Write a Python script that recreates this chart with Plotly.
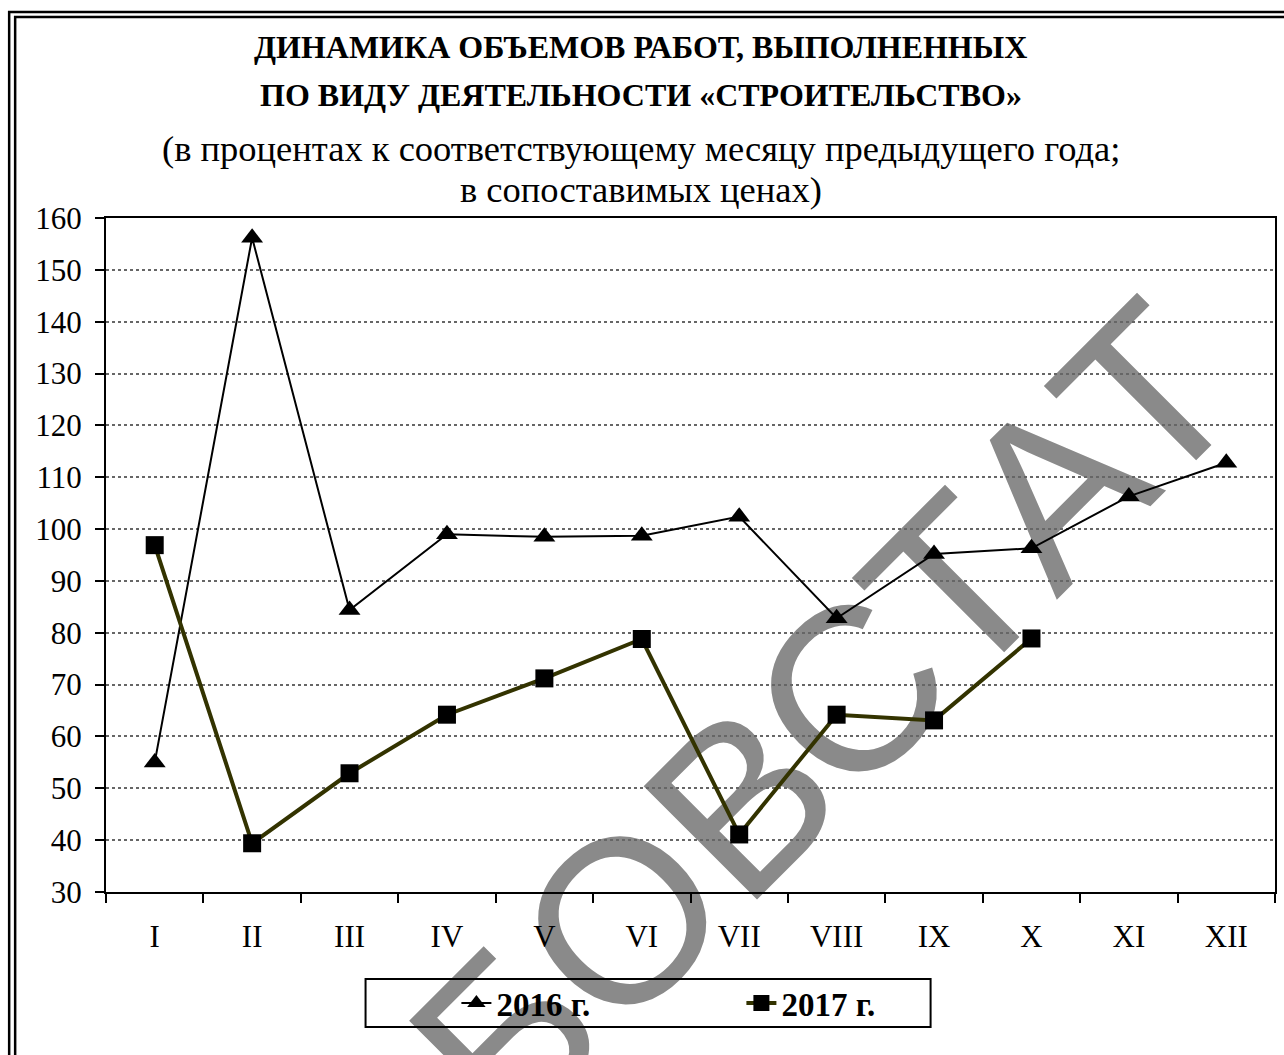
import plotly.graph_objects as go

months = ["I", "II", "III", "IV", "V", "VI", "VII", "VIII", "IX", "X", "XI", "XII"]
values_2016 = [55.0, 156.2, 84.4, 99.0, 98.5, 98.7, 102.4, 82.8, 95.2, 96.3, 106.3, 112.8]
values_2017 = [96.9, 39.4, 52.9, 64.2, 71.2, 78.8, 41.1, 64.2, 63.1, 78.9]
names = ["2016 г.", "2017 г."]

title_lines = [
    "ДИНАМИКА ОБЪЕМОВ РАБОТ, ВЫПОЛНЕННЫХ",
    "ПО ВИДУ ДЕЯТЕЛЬНОСТИ «СТРОИТЕЛЬСТВО»",
    "(в процентах к соответствующему месяцу предыдущего года;",
    "в сопоставимых ценах)",
]
watermark = "БОВСТАТ"

W, H = 1284, 1055
L, R, T, B = 106, 1277, 218, 892


def px(xp):
    return (xp - L) / (R - L)


def py(yp):
    return (B - yp) / (B - T)


SERIF = "Liberation Serif, Times New Roman, serif"

fig = go.Figure()
fig.add_trace(go.Scatter(
    x=months, y=values_2016, name=names[0], mode="lines+markers",
    line=dict(color="black", width=2),
    marker=dict(symbol="triangle-up", size=19, color="black"),
))
fig.add_trace(go.Scatter(
    x=months[:len(values_2017)], y=values_2017, name=names[1], mode="lines+markers",
    line=dict(color="#333300", width=4),
    marker=dict(symbol="square", size=18, color="black"),
))

annotations = []
ys = [47, 95, 148, 190]
for i, (txt, yp) in enumerate(zip(title_lines, ys)):
    bold = i < 2
    annotations.append(dict(
        text=f"<b>{txt}</b>" if bold else txt,
        x=px(641.5), y=py(yp), xref="paper", yref="paper",
        xanchor="center", yanchor="middle", showarrow=False,
        font=dict(family=SERIF, size=32 if bold else 36.5, color="black"),
    ))

shapes = [
    # watermark (below everything)
    dict(type="line", xref="paper", yref="paper",
         x0=px(805), y0=py(707), x1=px(815), y1=py(697),
         line=dict(width=0, color="rgba(0,0,0,0)"), layer="below",
         label=dict(text=watermark, textangle=-45, textposition="middle",
                    xanchor="center", yanchor="middle",
                    font=dict(family="Liberation Sans, Arial, sans-serif", size=233, color="#8a8a8a"))),
    # outer double frame
    dict(type="rect", xref="paper", yref="paper",
         x0=px(9), x1=px(1300), y0=py(1100), y1=py(12),
         line=dict(color="black", width=2.5), layer="above"),
    dict(type="rect", xref="paper", yref="paper",
         x0=px(15), x1=px(1300), y0=py(1100), y1=py(17),
         line=dict(color="black", width=2.5), layer="above"),
    # legend box
    dict(type="rect", xref="paper", yref="paper",
         x0=px(366), x1=px(932), y0=py(1027), y1=py(979),
         line=dict(color="black", width=2), layer="above"),
]

fig.update_layout(
    width=W, height=H,
    margin=dict(l=L, r=W - R, t=T, b=H - B, pad=0),
    paper_bgcolor="white",
    plot_bgcolor="rgba(0,0,0,0)",
    font=dict(family=SERIF, size=31, color="black"),
    showlegend=True,
    legend=dict(
        orientation="h", x=px(457), y=py(1003), xanchor="left", yanchor="middle",
        bgcolor="rgba(0,0,0,0)", borderwidth=0,
        font=dict(family=SERIF, size=33, color="black", weight="bold"),
        entrywidth=240, itemsizing="trace",
    ),
    annotations=annotations,
    shapes=shapes,
)

fig.update_xaxes(
    type="category", range=[-0.5, 11.5], tickson="boundaries",
    showline=True, linecolor="black", linewidth=2, mirror=True,
    ticks="outside", ticklen=9, tickwidth=2, tickcolor="black",
    showgrid=False, ticklabelstandoff=16,
    tickfont=dict(family=SERIF, size=31, color="black"),
)
fig.update_yaxes(
    range=[30, 160], dtick=10, tick0=30,
    showline=True, linecolor="black", linewidth=2, mirror=True,
    ticks="outside", ticklen=9, tickwidth=2, tickcolor="black",
    showgrid=True, gridcolor="#666666", griddash="dot", gridwidth=1.5,
    zeroline=False, ticklabelstandoff=7,
    tickfont=dict(family=SERIF, size=31, color="black"),
)

fig.write_html(
    "out.html",
    config={"displayModeBar": False},
    post_script="document.body.style.margin='0';document.body.style.overflow='hidden';",
)
